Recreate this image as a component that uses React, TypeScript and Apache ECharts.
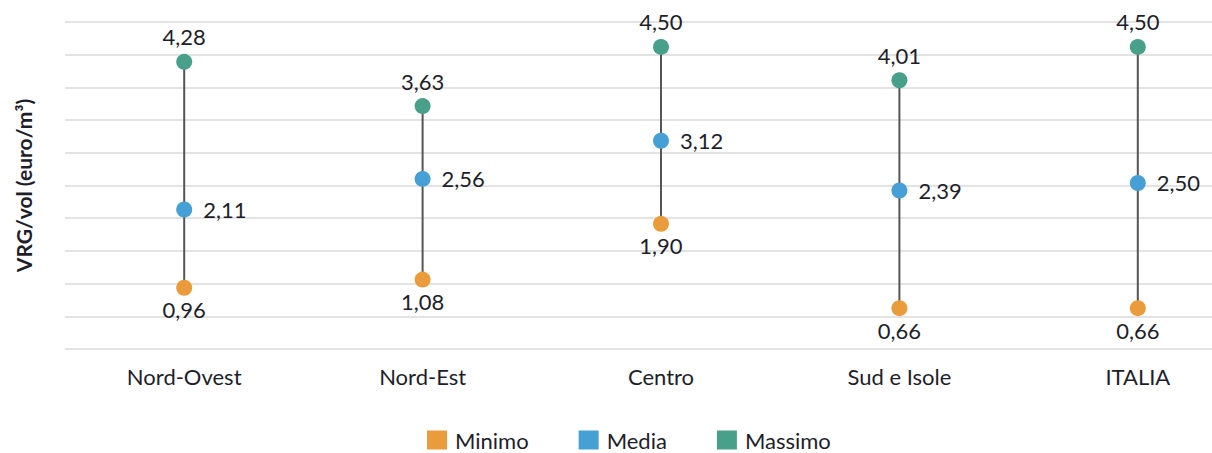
import React, { useEffect, useRef } from "react";
import * as echarts from "echarts";

const categories = ["Nord-Ovest", "Nord-Est", "Centro", "Sud e Isole", "ITALIA"];
const minimo = [0.96, 1.08, 1.9, 0.66, 0.66];
const media = [2.11, 2.56, 3.12, 2.39, 2.5];
const massimo = [4.28, 3.63, 4.5, 4.01, 4.5];

const COLORS = { min: "#EA9B3B", med: "#47A0D5", max: "#48A08A" };
const FONT = "Lato";
const TXT = "#1e1e2a";
const FS = 22;

const fmt = (p: any) => Number(p.data).toFixed(2).replace(".", ",");

export default function App() {
  const ref = useRef<HTMLDivElement>(null);
  useEffect(() => {
    if (!ref.current) return;
    const chart = echarts.init(ref.current, undefined, { renderer: "svg" });
    const rangeData = categories.map((_, i) => [i, minimo[i], massimo[i]]);
    chart.setOption({
      animation: false,
      textStyle: { fontFamily: FONT },
      grid: { left: 65, top: 22, width: 1192, height: 327 },
      legend: {
        left: 427,
        top: 429,
        padding: 0,
        icon: "rect",
        itemWidth: 20,
        itemHeight: 19,
        itemGap: 50,
        textStyle: { fontSize: FS, color: TXT, fontFamily: FONT, padding: [0, 0, 0, 3] },
        data: ["Minimo", "Media", "Massimo"],
      },
      xAxis: {
        type: "category",
        data: categories,
        axisLine: { show: false },
        axisTick: { show: false },
        axisLabel: { fontSize: FS, color: TXT, margin: 16, fontFamily: FONT },
      },
      yAxis: [
        { type: "value", min: 0.06, max: 4.866, show: false, splitLine: { show: false } },
        {
          type: "value",
          min: 0,
          max: 10,
          interval: 1,
          position: "left",
          axisLine: { show: false },
          axisTick: { show: false },
          axisLabel: { show: false },
          splitLine: { lineStyle: { color: "#dadada", width: 1.5 } },
          name: "VRG/vol (euro/m³)",
          nameLocation: "middle",
          nameGap: 31,
          nameTextStyle: { fontSize: 21, fontWeight: "bold", color: TXT, fontFamily: FONT },
        },
      ],
      series: [
        {
          type: "custom",
          yAxisIndex: 0,
          data: rangeData,
          encode: { x: 0, y: [1, 2] },
          silent: true,
          z: 1,
          renderItem: (_p: any, api: any) => {
            const lo = api.coord([api.value(0), api.value(1)]);
            const hi = api.coord([api.value(0), api.value(2)]);
            return {
              type: "line",
              shape: { x1: lo[0], y1: lo[1], x2: hi[0], y2: hi[1] },
              style: { stroke: "#555", lineWidth: 2 },
            };
          },
        },
        {
          name: "Minimo",
          type: "scatter",
          yAxisIndex: 0,
          data: minimo,
          symbolSize: 16,
          z: 3,
          itemStyle: { color: COLORS.min, opacity: 1 },
          label: { show: true, position: "bottom", distance: 3, fontSize: FS, color: TXT, fontFamily: FONT, formatter: fmt },
        },
        {
          name: "Media",
          type: "scatter",
          yAxisIndex: 0,
          data: media,
          symbolSize: 16,
          z: 3,
          itemStyle: { color: COLORS.med, opacity: 1 },
          label: { show: true, position: "right", distance: 11, fontSize: FS, color: TXT, fontFamily: FONT, formatter: fmt },
        },
        {
          name: "Massimo",
          type: "scatter",
          yAxisIndex: 0,
          data: massimo,
          symbolSize: 16,
          z: 3,
          itemStyle: { color: COLORS.max, opacity: 1 },
          label: { show: true, position: "top", distance: 6, fontSize: FS, color: TXT, fontFamily: FONT, formatter: fmt },
        },
      ],
    });
    return () => chart.dispose();
  }, []);
  return (
    <div style={{ position: "fixed", left: 0, top: 0, width: 1212, height: 453, overflow: "hidden", background: "#fff" }}>
      <div ref={ref} style={{ position: "absolute", left: 0, top: 0, width: 1260, height: 453 }} />
    </div>
  );
}
